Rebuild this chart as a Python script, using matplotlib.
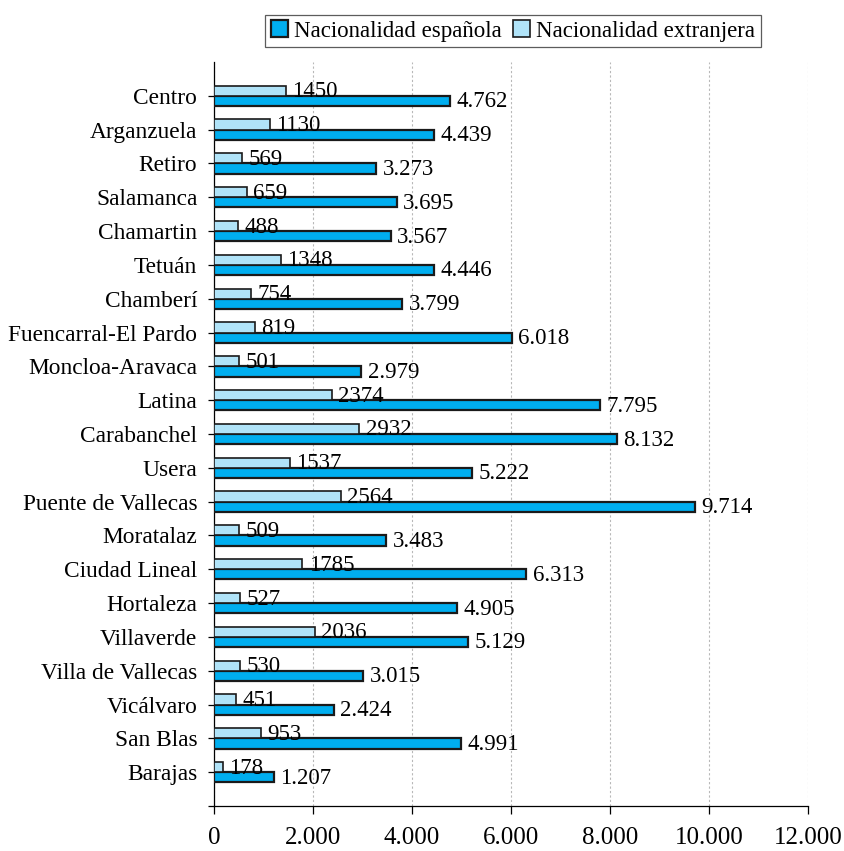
import matplotlib
matplotlib.use('Agg')
from matplotlib import pyplot as plt
import numpy as np

districts = ['Centro', 'Arganzuela', 'Retiro', 'Salamanca', 'Chamartin', 'Tetuán',
             'Chamberí', 'Fuencarral-El Pardo', 'Moncloa-Aravaca', 'Latina',
             'Carabanchel', 'Usera', 'Puente de Vallecas', 'Moratalaz',
             'Ciudad Lineal', 'Hortaleza', 'Villaverde', 'Villa de Vallecas',
             'Vicálvaro', 'San Blas', 'Barajas']
espanola = [4762, 4439, 3273, 3695, 3567, 4446, 3799, 6018, 2979, 7795,
            8132, 5222, 9714, 3483, 6313, 4905, 5129, 3015, 2424, 4991, 1207]
extranjera = [1450, 1130, 569, 659, 488, 1348, 754, 819, 501, 2374,
              2932, 1537, 2564, 509, 1785, 527, 2036, 530, 451, 953, 178]
xticks = [0, 2000, 4000, 6000, 8000, 10000, 12000]

plt.rcParams['font.family'] = ['Liberation Serif', 'DejaVu Serif']
dark = '#00AEEF'
light = '#B0E3F8'
edge = '#1a1a1a'

fig = plt.figure(figsize=(8.44, 8.51), dpi=100)
ax = fig.add_axes([214 / 844, 45 / 851, 594 / 844, 744 / 851])

n = len(districts)
y = n - 1 - np.arange(n)
h = 0.3
ax.barh(y - h / 2, espanola, height=h, color=dark, edgecolor=edge, linewidth=1.6,
        label='Nacionalidad española', zorder=3)
ax.barh(y + h / 2, extranjera, height=h, color=light, edgecolor=edge, linewidth=1.2,
        label='Nacionalidad extranjera', zorder=3)

for yy, v in zip(y, espanola):
    ax.text(v + 130, yy - h / 2 - 0.03, f'{v:,}'.replace(',', '.'), va='center', ha='left',
            fontsize=16.5, zorder=4)
for yy, v in zip(y, extranjera):
    ax.text(v + 130, yy + h / 2 - 0.03, str(v), va='center', ha='left', fontsize=16.5, zorder=4)

ax.set_xlim(0, 12000)
ax.set_ylim(-1, n)
ax.set_yticks(y)
ax.set_yticklabels(districts, fontsize=16.8)
ax.set_yticks([-1], minor=True)
ax.set_xticks(xticks)
ax.set_xticklabels([f'{t:,}'.replace(',', '.') for t in xticks], fontsize=18)
ax.tick_params(axis='y', which='both', direction='out', length=4.5, width=0.9, pad=7.5)
ax.tick_params(axis='x', direction='out', length=6, width=0.9, pad=9)

ax.grid(axis='x', color='#b8b8b8', linestyle=(0, (2, 2)), linewidth=0.8, zorder=0)
for s in ['top', 'right']:
    ax.spines[s].set_visible(False)
ax.spines['left'].set_linewidth(0.9)
ax.spines['bottom'].set_linewidth(0.9)

leg = ax.legend(loc='center', bbox_to_anchor=(513 / 844, 1 - 31 / 851), bbox_transform=fig.transFigure,
                ncol=2, fontsize=16.5, frameon=True, fancybox=False, edgecolor='#333333',
                handlelength=0.75, handleheight=0.75, handletextpad=0.25, columnspacing=0.5,
                borderpad=0.25, borderaxespad=0)
leg.get_frame().set_linewidth(0.9)

fig.savefig('out.png', dpi=100)
